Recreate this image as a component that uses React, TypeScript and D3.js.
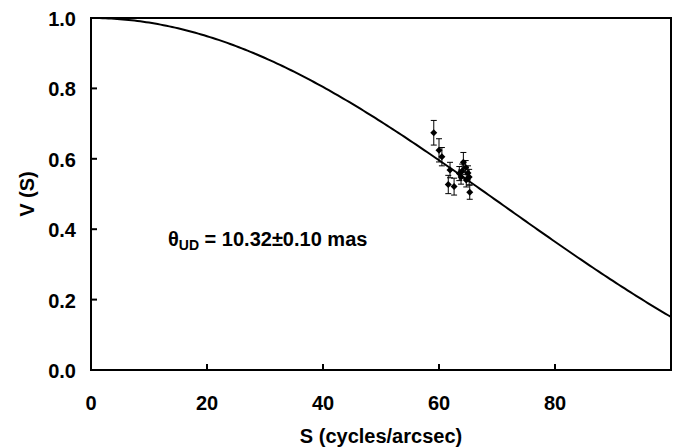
import React from "react";
import * as d3 from "d3";

const thetaUD = 10.32; // mas
const xTicks = [0, 20, 40, 60, 80];
const yTicks = [0.0, 0.2, 0.4, 0.6, 0.8, 1.0];
const sValues = [59.1, 60.0, 60.5, 61.9, 61.6, 62.6, 63.5, 64.2, 64.0, 64.6, 65.0, 64.7, 65.2, 65.3, 63.8];
const vValues = [0.674, 0.624, 0.606, 0.568, 0.527, 0.521, 0.558, 0.590, 0.565, 0.575, 0.560, 0.540, 0.548, 0.505, 0.548];
const vErrors = [0.035, 0.033, 0.026, 0.022, 0.026, 0.024, 0.02, 0.028, 0.02, 0.02, 0.02, 0.02, 0.022, 0.02, 0.02];

function besselJ1(x: number): number {
  let sum = 0;
  let fact = 1;
  for (let k = 0; k < 30; k++) {
    if (k > 0) fact *= k;
    const fact1 = fact * (k + 1);
    sum += ((k % 2 === 0 ? 1 : -1) * Math.pow(x / 2, 2 * k + 1)) / (fact * fact1);
  }
  return sum;
}
function udVis(s: number): number {
  const x = Math.PI * (thetaUD / 1000) * s;
  if (x === 0) return 1;
  return Math.abs((2 * besselJ1(x)) / x);
}

const W = 680, H = 447;
const L = 91, R = 671, T = 18, B = 370;
const font = "'Liberation Sans', Arial, Helvetica, sans-serif";
const FS = 20;

export default function App() {
  const x = d3.scaleLinear().domain([0, 100]).range([L, R]);
  const y = d3.scaleLinear().domain([0, 1]).range([B, T]);
  const curveS = d3.range(0, 100.01, 0.5);
  const line = d3.line<number>().x((s) => x(s)).y((s) => y(udVis(s)));
  const diamond = (cx: number, cy: number, r: number) =>
    `M${cx},${cy - r}L${cx + r},${cy}L${cx},${cy + r}L${cx - r},${cy}Z`;

  return (
    <svg width={W} height={H} style={{ position: "absolute", left: 0, top: 0, background: "#fff" }} fontFamily={font}>
      <rect x={0} y={0} width={W} height={H} fill="#fff" />
      <path d={line(curveS) || ""} fill="none" stroke="#000" strokeWidth={2} />
      {sValues.map((s, i) => {
        const cx = x(s), cy = y(vValues[i]);
        const y1 = y(vValues[i] + vErrors[i]), y2 = y(vValues[i] - vErrors[i]);
        return (
          <g key={i}>
            <line x1={cx} x2={cx} y1={y1} y2={y2} stroke="#000" strokeWidth={1} />
            <line x1={cx - 3} x2={cx + 3} y1={y1} y2={y1} stroke="#000" strokeWidth={1} />
            <line x1={cx - 3} x2={cx + 3} y1={y2} y2={y2} stroke="#000" strokeWidth={1} />
            <path d={diamond(cx, cy, 3.5)} fill="#000" />
          </g>
        );
      })}
      <rect x={L} y={T} width={R - L} height={B - T} fill="none" stroke="#000" strokeWidth={2} />
      {yTicks.map((t) => (
        <g key={"y" + t}>
          <line x1={L} x2={L + 6} y1={y(t)} y2={y(t)} stroke="#000" strokeWidth={2} />
          <text x={76} y={y(t) + 8} textAnchor="end" fontSize={FS} fontWeight="bold">
            {t.toFixed(1)}
          </text>
        </g>
      ))}
      {xTicks.map((t) => (
        <g key={"x" + t}>
          <line x1={x(t)} x2={x(t)} y1={B} y2={B - 6} stroke="#000" strokeWidth={2} />
          <text x={x(t)} y={409.5} textAnchor="middle" fontSize={FS} fontWeight="bold">
            {t}
          </text>
        </g>
      ))}
      <text transform={`translate(34,${(T + B) / 2}) rotate(-90)`} textAnchor="middle" fontSize={FS} fontWeight="bold">
        V (S)
      </text>
      <text x={(L + R) / 2} y={443} textAnchor="middle" fontSize={FS} fontWeight="bold">
        S (cycles/arcsec)
      </text>
      <text x={168} y={246} fontSize={FS} fontWeight="bold">
        θ<tspan fontSize={14} dy={4}>UD</tspan>
        <tspan dy={-4}> = 10.32±0.10 mas</tspan>
      </text>
    </svg>
  );
}
